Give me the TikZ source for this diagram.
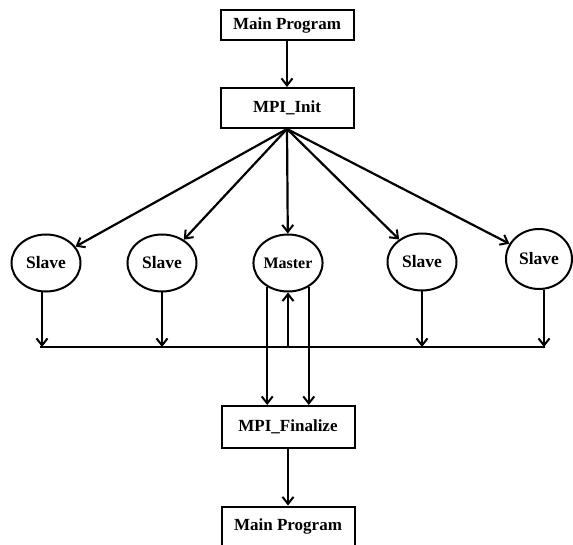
\documentclass[tikz,border=0pt]{standalone}
\usepackage{fontspec}
\setmainfont{Liberation Serif}
\usetikzlibrary{shapes.geometric,arrows.meta}
\tikzset{
  stage/.style={draw, line width=2pt, rectangle, minimum width=133pt, inner sep=0pt, font=\fontsize{17}{20}\selectfont\bfseries},
  proc/.style={draw, line width=2pt, ellipse, minimum width=69pt, minimum height=57pt, inner sep=0pt, font=\fontsize{17.5}{20}\selectfont\bfseries},
  flow/.style={-{Straight Barb[length=7pt,width=11pt,line width=2pt]}, line width=2.2pt}
}
\begin{document}
\begin{tikzpicture}[x=1pt,y=-1pt]
\useasboundingbox (0,0) rectangle (573,545);

% Program stages
\node[stage, minimum height=30pt] (mainA) at (287,25) {Main Program};
\node[stage, minimum height=40pt] (init) at (287,108) {MPI\_Init};
\node[stage, minimum height=42pt] (fin) at (288,427) {MPI\_Finalize};
\node[stage, minimum height=39pt] (mainB) at (288,526) {Main Program};

% Processes
\node[proc] (s1) at (46,263) {Slave};
\node[proc] (s2) at (162,263) {Slave};
\node[proc, font=\fontsize{16}{18}\selectfont\bfseries] (m) at (288,263) {Master};
\node[proc] (s4) at (422,262) {Slave};
\node[proc, minimum width=66pt, minimum height=60pt] (s5) at (539,259) {Slave};

% Spawn
\draw[flow] (mainA) -- (init);
\foreach \p in {s1,s2,m,s4,s5}
  \draw[flow] (init.south) -- (\p);

% Collect bar
\coordinate (barL) at (40,347);
\coordinate (barR) at (545,347);
\draw[line width=2.2pt] (barL) -- (barR);
\draw[flow] ([xshift=-4pt]s1.south) -- ([xshift=-4pt]s1.south |- barL);
\draw[flow] (s2.south) -- (s2.south |- barL);
\draw[flow] (s4.south) -- (s4.south |- barL);
\draw[flow] ([xshift=5pt]s5.south) -- ([xshift=5pt]s5.south |- barL);
\draw[flow] (m.south |- barL) -- (m.south);

% Master to finalize
\draw[flow] (m.229) -- (m.229 |- fin.north);
\draw[flow] (m.311) -- (m.311 |- fin.north);
\draw[flow] (fin) -- (mainB);
\end{tikzpicture}
\end{document}
